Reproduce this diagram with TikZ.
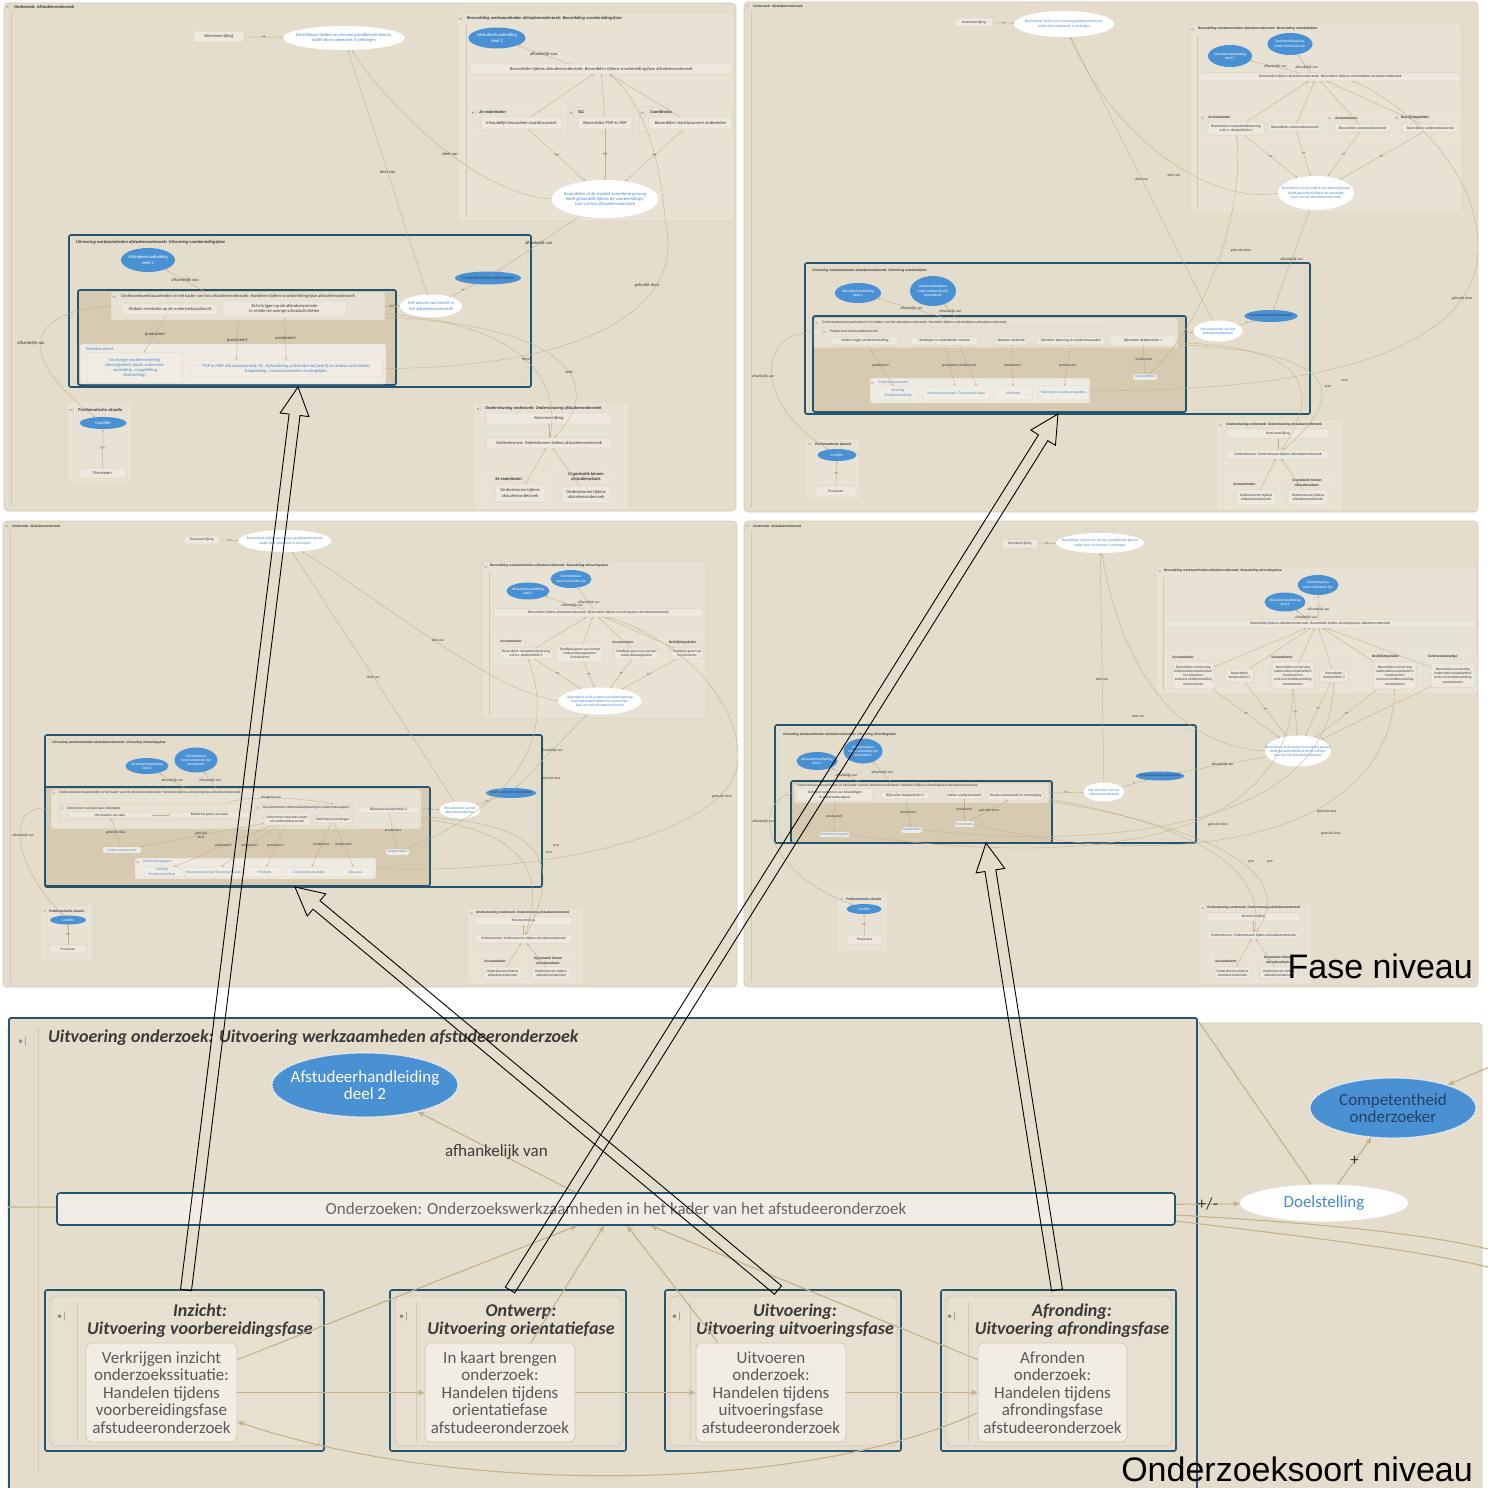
\documentclass[tikz,border=0pt]{standalone}
\usepackage{fontspec}
\setmainfont{Carlito}
\newfontfamily\helv{Liberation Sans}
\usetikzlibrary{shapes.geometric,calc,arrows.meta}

\definecolor{pbg}{RGB}{228,221,204}
\definecolor{pline}{RGB}{212,202,180}
\definecolor{gbg}{RGB}{232,226,212}
\definecolor{gline}{RGB}{210,199,176}
\definecolor{lbg}{RGB}{239,235,226}
\definecolor{bxbg}{RGB}{238,233,223}
\definecolor{bline}{RGB}{206,194,170}
\definecolor{hbg}{RGB}{214,202,176}
\definecolor{frm}{RGB}{36,84,110}
\definecolor{ebl}{RGB}{74,145,212}
\definecolor{txb}{RGB}{70,138,204}
\definecolor{con}{RGB}{196,177,140}
\definecolor{txd}{RGB}{58,58,58}
\definecolor{navy}{RGB}{38,64,100}
\definecolor{ibg}{RGB}{242,237,228}
\definecolor{pinbg}{RGB}{231,224,208}

\newcommand{\fsz}{\fontsize{4.5}{5.2}\selectfont}
\newcommand{\bigttl}{\fontsize{18}{18}\selectfont\bfseries\itshape}

% box given by its corners
\newcommand{\bxn}[7][]{\node[bx,#1,minimum width={(#5-#3)*1pt},minimum height={(#6-#4)*1pt}] (#2) at ({(#3+#5)/2},{(#4+#6)/2}) {#7};}
% frame given by its corners
\newcommand{\gn}[6][grp]{\node[#1,minimum width={(#5-#3)*1pt},minimum height={(#6-#4)*1pt}] (#2) at ({(#3+#5)/2},{(#4+#6)/2}) {};}
% ellipse by centre and size, text set on top
\newcommand{\eln}[7][]{\node[el,#1,minimum width={#5*1pt},minimum height={#6*1pt}] (#2) at (#3,#4) {};
  \node[#1,fill=none,draw=none,shape=rectangle,align=center,inner sep=0pt] (#2t) at (#2.center) {#7};}
% open block arrow from tail #1 to tip #2
\newcommand{\blockarrow}[2]{%
  \coordinate (hb#1) at ($(#2)!28pt!(#1)$);
  \draw[harrow] ($(#1)!5.5pt!90:(#2)$) -- ($(hb#1)!5.5pt!90:(#2)$) -- ($(hb#1)!14.5pt!90:(#2)$) -- (#2) -- ($(hb#1)!14.5pt!-90:(#2)$) -- ($(hb#1)!5.5pt!-90:(#2)$) -- ($(#1)!5.5pt!-90:(#2)$) -- cycle;}

\tikzset{
  panel/.style={fill=pbg,draw=pline,line width=0.6pt,rounded corners=4pt,inner sep=0pt},
  grp/.style={fill=gbg,draw=gline,line width=0.4pt,rounded corners=2pt,inner sep=0pt},
  dgrp/.style={fill=gbg,draw=white,dash pattern=on 1.2pt off 0.8pt,line width=0.4pt,rounded corners=2pt,inner sep=0pt},
  lgrp/.style={fill=lbg,draw=gline,line width=0.3pt,rounded corners=1.5pt,inner sep=0pt},
  ufr/.style={fill=pbg,draw=frm,line width=1.7pt,rounded corners=2pt,inner sep=0pt},
  ifr/.style={draw=gline,line width=0.4pt,rounded corners=2pt,inner sep=0pt},
  hlf/.style={fill=hbg,draw=frm,line width=1.7pt,rounded corners=2pt,inner sep=0pt},
  bx/.style={fill=bxbg,draw=bline,line width=0.3pt,rounded corners=1pt,inner sep=0.4pt,align=center,text=txd},
  lbx/.style={fill=ibg,text=txb},
  el/.style={ellipse,inner sep=0pt},
  bel/.style={fill=ebl,text=white},
  wel/.style={fill=white,text=txb},
  cel/.style={fill=ebl,text=navy},
  dot/.style={draw=white,dash pattern=on 0.8pt off 0.8pt,line width=1.2pt},
  cn/.style={draw=con,line width=0.4pt,-{Stealth[length=2.5pt,width=2pt]}},
  lab/.style={text=txd,inner sep=0.3pt,align=center},
  ttl/.style={font=\fsz\bfseries\itshape,text=txd,anchor=west,inner sep=0pt},
  ttc/.style={font=\fsz\bfseries\itshape,text=txd,align=center,inner sep=0pt},
  tt/.style={text=txd,anchor=west,inner sep=0pt},
  mk/.style={text=txd!60,inner sep=0pt},
  vl/.style={draw=gline,line width=0.4pt},
  harrow/.style={draw=black,line width=0.9pt,line join=miter},
  big/.style={font=\helv\fontsize{34}{36}\selectfont,text=black,inner sep=0pt,anchor=base east},
  ecn/.style={draw=con,line width=1.1pt,-{Stealth[length=7pt,width=6pt]}},
  epl/.style={draw=con,line width=1.1pt},
  efr/.style={fill=pbg,draw=frm,line width=1.8pt,rounded corners=2pt,inner sep=0pt},
  wbx/.style={fill=ibg,draw=frm,line width=1.6pt,rounded corners=3pt,text=black!60},
  pfr/.style={fill=pbg,draw=frm,line width=1.6pt,rounded corners=2pt,inner sep=0pt},
  pin/.style={fill=pinbg,draw=gline,line width=0.8pt,rounded corners=6pt,inner sep=0pt},
  ibx/.style={fill=ibg,draw=gline,line width=0.8pt,rounded corners=6pt,text=black!65},
}

\begin{document}
\begin{tikzpicture}[x=1pt,y=-1pt,every node/.style={font=\fsz}]
\useasboundingbox (0,0) rectangle (1488,1488);
\clip (0,0) rectangle (1488,1488);
\fill[white] (0,0) rectangle (1488,1488);

% ================= preparation phase panel =================
\begin{scope}
\renewcommand{\fsz}{\fontsize{4.5}{5.2}\selectfont}
\gn[panel]{aP}{4}{3}{736}{511}
\node[mk] (aM0) at (8,7.5) {•|};
\node[ttl] (aT0) at (14,7.5) {Onderzoek: Afstudeeronderzoek};
\draw[vl] (11,12) -- (11,506);
\bxn{aK}{194}{31}{244}{42}{Kennisverrijking}
\eln[wel]{aB}{344}{38}{122}{24}{Beschikbaar stellen van nieuwe gevalideerde kennis,\\welke door onderzoek is verkregen}
\gn[grp]{aG1}{457}{13}{734}{221}
\node[mk] (aM1) at (461,19) {•|};
\node[ttl] (aT1) at (467,18.5) {Beoordeling werkzaamheden afstudeeronderzoek: Beoordeling voorbereidingsfase};
\draw[vl] (466,25) -- (466,217);
\eln[bel]{aH}{497}{38}{57}{21}{Afstudeerhandleiding\\deel 2}
\bxn{aW}{470}{64}{733}{74}{Beoordelen tijdens afstudeeronderzoek: Beoordelen tijdens voorbereidingsfase afstudeeronderzoek}
\gn[dgrp]{aG2}{470}{107}{564}{133}
\node[mk] (aM2) at (474,113) {•|};
\node[ttl] (aT2) at (479,112) {2e examinator};
\bxn{aE1}{481}{117}{562}{129}{Inhoudelijk beoordelen startdocument}
\gn[grp]{aG3}{568}{107}{634}{133}
\node[mk] (aM3) at (572,113) {•|};
\node[ttl] (aT3) at (578,112) {SLC};
\bxn{aE2}{578}{117}{632}{129}{Beoordelen POP en PAP}
\gn[grp]{aG4}{639}{107}{733}{133}
\node[mk] (aM4) at (643,113) {•|};
\node[ttl] (aT4) at (650,112) {Coordinator};
\bxn{aE3}{649}{117}{732}{129}{Beoordelen startdocument onderdelen}
\eln[wel]{aR}{605}{199}{107}{38}{Beoordelen of de student toereikend genoeg\\heeft gehandeld tijdens de voorbereidings-\\fase van het afstudeeronderzoek}
% execution
\gn[ufr]{aU}{69}{235}{531}{387}
\gn[ifr]{aU2}{73}{239}{527}{383}
\node[ttl] (aT5) at (76,242) {Uitvoering werkzaamheden afstudeeronderzoek: Uitvoering voorbereidingsfase};
\eln[bel]{aH2}{148}{260}{54}{24}{Afstudeerhandleiding\\deel 2}
\eln[cel]{aC}{488}{278}{66}{13}{Competentheid onderzoeker}
\eln[wel]{aV}{431}{306}{62}{23}{Het werven van inzicht in\\het afstudeeronderzoek}
\gn[hlf]{aF}{78}{290}{396}{385}
\gn[grp]{aG5}{111}{292}{385}{320}
\node[mk] (aM6) at (115,297) {•|};
\node[tt] (aT6) at (121,296) {Onderzoekswerkzaamheden in het kader van het afstudeeronderzoek: Handelen tijdens voorbereidingsfase afstudeeronderzoek};
\bxn{aT1b}{122}{304}{218}{315}{Globale orientatie op de onderzoeksopdracht}
\bxn{aT2b}{223}{301}{346}{317}{Zicht krijgen op de afstudeerperiode\\in relatie tot overige schoolactiviteiten}
\gn[lgrp]{aG6}{80}{344}{386}{384}
\node[tt,text=txb] (aT7) at (86,349) {Startdocument};
\bxn[lbx]{aS1}{87}{353}{182}{383}{Voorlopige probleemstelling\\(kennisgebied, keuze onderzoek\\, aanleiding, vraagstelling,\\doelstelling)}
\bxn[lbx]{aS2}{190}{360}{383}{377}{POP en PAP, afstudeerperiode, EC, tijdverdeling activiteiten bij bedrijf en andere activiteiten,\\begeleiding, contactmomenten en dergelijke.}
% problem situation
\gn[dgrp]{aG7}{69}{404}{130}{481}
\node[mk] (aM7) at (72,410) {•|};
\node[ttl] (aT8) at (78,410) {Problematische situatie};
\eln[bel]{aCo}{103}{423}{47}{12}{Conditie}
\bxn{aPr}{78}{468}{127}{478}{Processen}
% support
\gn[dgrp]{aG8}{475}{404}{627}{508}
\node[mk] (aM8) at (479,409) {•|};
\node[ttl] (aT9) at (485,408) {Ondersteuning onderzoek: Ondersteuning afstudeeronderzoek};
\bxn{aOK}{486}{413}{612}{424}{Kennisverrijking}
\bxn{aOO}{486}{438}{612}{448}{Ondersteunen: Ondersteunen tijdens afstudeeronderzoek}
\gn[dgrp]{aG9}{487}{473}{547}{505}
\node[ttl] (aT10) at (495,479) {2e examinator};
\bxn{aO1}{495}{484}{545}{502}{Ondersteunen tijdens\\afstudeeronderzoek}
\gn[dgrp]{aG10}{551}{471}{611}{505}
\node[ttc] (aT11) at (586,477) {Organisatie binnen\\afstudeerplaats};
\bxn{aO2}{562}{486}{610}{503}{Ondersteunen tijdens\\afstudeeronderzoek}
% connectors
\draw[cn] (aK) -- node[lab] (aL0) {++} (aB);
\draw[cn] ([xshift=-32pt]aW.north) -- node[lab] (aL1) {afhankelijk van} (aH);
\draw[cn] (aE1) -- ([xshift=-8pt]aW.south);
\draw[cn] (aE2) -- (aW.south);
\draw[cn] (aE3) -- ([xshift=8pt]aW.south);
\draw[cn] (aE1) -- node[lab] (aL2) {++} (aR);
\draw[cn] (aE2) -- node[lab] (aL3) {++} (aR);
\draw[cn] (aE3) -- node[lab] (aL4) {++} (aR);
\draw[cn] (aV) -- node[lab] (aL5) {+} (aC);
\draw[cn] (aG5.east) -- node[lab] (aL6) {+/-} (aV);
\draw[cn] ([xshift=-43pt]aG5.north) -- node[lab] (aL7) {afhankelijk van} (aH2);
\draw[cn] (aT1b) -- node[lab] (aL8) {produceert} (aS1);
\draw[cn] ([xshift=-10pt]aG5.south) -- node[lab] (aL9) {produceert} ([xshift=-50pt]aS2.north);
\draw[cn] (aT2b) -- node[lab] (aL10) {produceert} (aS2);
\draw[cn] (aR) -- node[lab] (aL11) {afhankelijk van} (aC);
\draw[cn] (aV) -- node[lab] (aL12) {deel van} (aB);
\draw[cn] (aR.west) .. controls (480,195) and (390,110) .. node[lab,pos=0.45] (aL13) {deel van} (aB);
\draw[cn] (aS2.east) .. controls (560,368) and (690,320) .. (665,220) .. controls (660,150) and (640,100) .. ([xshift=8pt]aW.south);
\node[lab] (aL14) at (647,285) {gebruikt door};
\draw[cn] (aG5.west) .. controls (20,312) and (20,360) .. (aCo);
\node[lab] (aL15) at (31,343) {afhankelijk van};
\draw[cn] ([yshift=-8pt]aG5.east) .. controls (480,320) and (565,355) .. node[lab,pos=0.6] (aL16) {sync} (aOO);
\draw[cn] ([yshift=-11pt]aG5.east) .. controls (560,325) and (610,380) .. node[lab,pos=0.6] (aL17) {sync} (aOO);
\draw[cn] (aPr) -- node[lab] (aL18) {+/-} (aCo);
\draw[cn] (aOO) -- (aOK);
\draw[cn] (aO1) -- (aOO);
\draw[cn] (aO2) -- (aOO);
\end{scope}

% ================= orientation phase panel =================
\begin{scope}
\renewcommand{\fsz}{\fontsize{3.7}{4.3}\selectfont}
\gn[panel]{bP}{744}{2}{1478}{512}
\node[mk] (bM0) at (748,6.5) {•|};
\node[ttl] (bT0) at (753,6.5) {Onderzoek: Afstudeeronderzoek};
\draw[vl] (751,11) -- (751,507);
\bxn{bK}{955}{18}{993}{27}{Kennisverrijking}
\eln[wel]{bB}{1064}{24}{100}{26}{Beschikbaar stellen van nieuwe gevalideerde kennis,\\welke door onderzoek is verkregen}
\gn[grp]{bG1}{1190}{24}{1462}{212}
\node[mk] (bM1) at (1193,29.5) {•|};
\node[ttl] (bT1) at (1198,29) {Beoordeling werkzaamheden afstudeeronderzoek: Beoordeling orientatiefase};
\draw[vl] (1197,36) -- (1197,209);
\eln[bel]{bH}{1230}{56}{44}{22}{Afstudeerhandleiding\\deel 2}
\eln[bel]{bH2}{1290}{44}{45}{22}{Voorbereidingsfase\\moet voldoende zijn}
\bxn{bW}{1200}{73}{1461}{81}{Beoordelen tijdens afstudeeronderzoek: Beoordelen tijdens orientatiefase afstudeeronderzoek}
\gn[dgrp]{bG2}{1200}{113}{1324}{137}
\node[mk] (bM2) at (1203,118) {•|};
\node[ttl] (bT2) at (1208,117) {2e examinator};
\bxn{bE1}{1208}{122}{1264}{135}{Beoordelen competentiewerving\\a.d.h.v. deelportfolio 1}
\bxn{bE2}{1268}{123}{1322}{131}{Beoordelen onderzoeksvoorstel}
\gn[dgrp]{bG3}{1327}{113}{1392}{137}
\node[mk] (bM3) at (1330,118) {•|};
\node[ttl] (bT3) at (1335,118) {2e examinator};
\bxn{bE3}{1335}{124}{1390}{132}{Beoordelen onderzoeksvoorstel}
\gn[dgrp]{bG4}{1394}{113}{1461}{137}
\node[mk] (bM4) at (1397,118) {•|};
\node[ttl] (bT4) at (1401,118) {Bedrijfsbegeleider};
\bxn{bE4}{1402}{124}{1459}{132}{Beoordelen onderzoeksvoorstel}
\eln[wel]{bR}{1316}{193}{76}{34}{Beoordelen of de student toereikend genoeg\\heeft gehandeld tijdens de orientatie\\fase van het afstudeeronderzoek}
\gn[ufr]{bU}{805}{263}{1310}{414}
\gn[ifr]{bU2}{809}{267}{1306}{410}
\node[ttl] (bT5) at (812,271) {Uitvoering werkzaamheden afstudeeronderzoek: Uitvoering orientatiefase};
\eln[bel]{bH3}{858}{293}{46}{20}{Afstudeerhandleiding\\deel 1}
\eln[bel]{bH4}{933}{291}{46}{30}{Voorbereidingsfase\\moet voldoende zijn\\beoordeeld}
\eln[wel]{bV}{1218}{331}{49}{21}{Het ontwerpen van het\\afstudeeronderzoek}
\eln[cel]{bC}{1271}{316}{53}{12}{Competentheid onderzoeker}
\gn[hlf]{bF}{813}{316}{1186}{412}
\gn[grp]{bG5}{814}{318}{1178}{348}
\node[mk] (bM5) at (817,323) {•|};
\node[tt] (bT6) at (822,322.5) {Onderzoekswerkzaamheden in het kader van het afstudeeronderzoek: Handelen tijdens orientatiefase afstudeeronderzoek};
\gn[grp]{bG6}{822}{327}{1107}{347}
\node[mk] (bM6) at (825,332) {•|};
\node[tt] (bT7) at (830,331) {Produceren onderzoeksvoorstel};
\bxn{bT1}{832}{337}{898}{345}{Helder krijgen probleemstelling}
\bxn{bT2}{911}{337}{978}{345}{Verdiepen in onderkende materie}
\bxn{bT3}{996}{337}{1027}{345}{Bepalen methode}
\bxn{bT4}{1037}{337}{1105}{345}{Opstellen planning en randvoorwaarden}
\bxn{bT5}{1110}{336}{1176}{346}{Bijhouden deelportfolio 1}
\gn[lgrp]{bG7}{870}{378}{1090}{403}
\node[mk] (bM7) at (873,383) {•|};
\node[tt,text=txb] (bT8) at (878,382) {Onderzoeksvoorstel};
\bxn[lbx]{bS1}{878}{386}{918}{400}{Inleiding\\(Probleemstelling)}
\bxn[lbx]{bS2}{923}{386}{990}{400}{Bronnenonderzoek /Theoretisch kader}
\bxn[lbx]{bS3}{994}{386}{1033}{400}{Methode}
\bxn[lbx]{bS4}{1038}{386}{1089}{400}{Planning en randvoorwaarden}
\bxn[lbx]{bS5}{1133}{374}{1157}{380}{Deelportfolio}
\gn[dgrp]{bG8}{807}{440}{858}{498}
\node[mk] (bM8) at (810,444.5) {•|};
\node[ttl] (bT9) at (815,444) {Problematische situatie};
\eln[bel]{bCo}{837}{455}{39}{12}{Conditie}
\bxn{bPr}{816}{486}{856}{496}{Processen}
\gn[dgrp]{bG9}{1218}{421}{1341}{509}
\node[mk] (bM9) at (1221,425.5) {•|};
\node[ttl] (bT10) at (1226,425) {Ondersteuning onderzoek: Ondersteuning afstudeeronderzoek};
\bxn{bOK}{1226}{429}{1330}{438}{Kennisverrijking}
\bxn{bOO}{1226}{450}{1330}{459}{Ondersteunen: Ondersteunen tijdens afstudeeronderzoek}
\gn[dgrp]{bG10}{1226}{478}{1277}{507}
\node[ttl] (bT11) at (1233,484) {2e examinator};
\bxn{bO1}{1236}{490}{1276}{505}{Ondersteunen tijdens\\afstudeeronderzoek}
\gn[dgrp]{bG11}{1280}{477}{1330}{507}
\node[ttc] (bT12) at (1307,483) {Organisatie binnen\\afstudeerplaats};
\bxn{bO2}{1288}{490}{1328}{505}{Ondersteunen tijdens\\afstudeeronderzoek}
% connectors
\draw[cn] (bK) -- node[lab] (bL0) {++} (bB);
\draw[cn] ([xshift=-30pt]bW.north) -- node[lab] (bL1) {afhankelijk van} (bH);
\draw[cn] ([xshift=-20pt]bW.north) -- node[lab,pos=0.3] (bL2) {afhankelijk van} (bH2);
\draw[cn] (bE1) -- ([xshift=-22pt]bW.south);
\draw[cn] (bE2) -- ([xshift=-16pt]bW.south);
\draw[cn] (bE3) -- ([xshift=-10pt]bW.south);
\draw[cn] (bE4) -- ([xshift=-4pt]bW.south);
\draw[cn] (bE1) -- node[lab] (bL3) {++} (bR);
\draw[cn] (bE2) -- node[lab] (bL4) {++} (bR);
\draw[cn] (bE3) -- node[lab] (bL5) {++} (bR);
\draw[cn] (bE4) -- node[lab] (bL6) {+/-} (bR);
\draw[cn] (bV) -- node[lab] (bL7) {deel van} (bB);
\draw[cn] (bR.west) .. controls (1220,205) and (1120,150) .. (bB);
\node[lab] (bL8) at (1174,175) {deel van};
\draw[cn] (bS5) .. controls (1200,330) and (1245,220) .. (bE1);
\node[lab] (bL9) at (1241,251) {gebruikt door};
\draw[cn] (bR) -- node[lab] (bL10) {afhankelijk van} (bC);
\draw[cn] (bG7.east) .. controls (1350,392) and (1475,340) .. (1478,250) .. controls (1480,170) and (1400,100) .. ([xshift=22pt]bW.south);
\node[lab] (bL11) at (1462,299) {gebruikt door};
\draw[cn] (bG5.east) -- node[lab] (bL12) {+/-} (bV);
\draw[cn] (bV) -- node[lab] (bL13) {+} (bC);
\draw[cn] ([xshift=-51pt]bG5.north) -- node[lab] (bL14) {afhankelijk van} (bH3);
\draw[cn] ([xshift=-40pt]bG5.north) -- node[lab] (bL15) {afhankelijk van} (bH4);
\draw[cn] (bT1) -- node[lab] (bL16) {produceert} (bS1);
\draw[cn] (bT2) -- node[lab] (bL17) {produceert} (bS2);
\draw[cn] ([xshift=15pt]bT2.south) -- node[lab] (bL18) {produceert} ([xshift=20pt]bS2.north);
\draw[cn] (bT3) -- node[lab] (bL19) {produceert} (bS3);
\draw[cn] (bT4) -- node[lab] (bL20) {produceert} (bS4);
\draw[cn] (bT5) -- node[lab] (bL21) {produceert} (bS5);
\draw[cn] (bG5.west) .. controls (760,330) and (750,400) .. (bCo);
\node[lab] (bL22) at (763,377) {afhankelijk van};
\draw[cn] ([yshift=-10pt]bG5.east) .. controls (1290,345) and (1330,380) .. (bOO);
\draw[cn] ([yshift=-12pt]bG5.east) .. controls (1320,350) and (1360,385) .. (bOO);
\node[lab] (bL23) at (1328,387) {sync};
\node[lab] (bL24) at (1345,381) {sync};
\draw[cn] (bPr) -- node[lab] (bL25) {+/-} (bCo);
\draw[cn] (bOO) -- (bOK);
\draw[cn] (bO1) -- (bOO);
\draw[cn] (bO2) -- (bOO);
\end{scope}

% ================= execution phase panel =================
\begin{scope}
\renewcommand{\fsz}{\fontsize{3.6}{4.2}\selectfont}
\gn[panel]{cP}{3}{521}{737}{987}
\node[mk] (cM0) at (7,526) {•|};
\node[ttl] (cT0) at (12,526) {Onderzoek: Afstudeeronderzoek};
\draw[vl] (10,531) -- (10,982);
\bxn{cK}{184}{536}{220}{544}{Kennisverrijking}
\eln[wel]{cB}{285}{541}{93}{22}{Beschikbaar stellen van nieuwe gevalideerde kennis,\\welke door onderzoek is verkregen}
\gn[grp]{cG1}{482}{562}{706}{718}
\node[mk] (cM1) at (486,567) {•|};
\node[ttl] (cT1) at (490,566) {Beoordeling werkzaamheden afstudeeronderzoek: Beoordeling uitvoeringsfase};
\draw[vl] (489,572) -- (489,715);
\eln[bel]{cH}{528}{591}{43}{17}{Afstudeerhandleiding\\deel 2}
\eln[bel]{cH2}{571}{579}{41}{18}{Orientatiefase\\moet voldoende zijn}
\bxn{cW}{494}{609}{703}{617}{Beoordelen tijdens afstudeeronderzoek: Beoordelen tijdens uitvoeringsfase afstudeeronderzoek}
\gn[dgrp]{cG2}{494}{638}{604}{662}
\node[ttl] (cT2) at (500,641.5) {2e examinator};
\bxn{cE1}{500}{648}{552}{659}{Beoordelen competentiewerving\\a.d.h.v. deelportfolio 2}
\bxn{cE2}{557}{644}{603}{662}{Feedback geven op concept\\onderzoeksrapporten/\\functioneren}
\gn[dgrp]{cG3}{607}{638}{661}{662}
\node[ttl] (cT3) at (612,642.5) {2e examinator};
\bxn{cE3}{614}{648}{659}{659}{Feedback geven op concept\\onderzoeksrapporten}
\gn[dgrp]{cG4}{664}{638}{704}{662}
\node[ttl] (cT4) at (669,642.5) {Bedrijfsbegeleider};
\bxn{cE4}{671}{648}{703}{659}{Feedback geven op\\functioneren}
\eln[wel]{cR}{600}{701}{83}{27}{Beoordelen of de student toereikend genoeg\\heeft gehandeld tijdens de uitvoerings-\\fase van het afstudeeronderzoek}
\gn[ufr]{cU}{45}{735}{542}{887}
\gn[ifr]{cU2}{49}{739}{538}{883}
\node[ttl] (cT5) at (52,743) {Uitvoering werkzaamheden afstudeeronderzoek: Uitvoering uitvoeringsfase};
\eln[bel]{cH3}{147}{766}{43}{16}{Afstudeerhandleiding\\deel 2}
\eln[bel]{cH4}{196}{760}{43}{25}{Orientatiefase\\moet voldoende zijn\\beoordeeld}
\eln[wel]{cV}{460}{810}{41}{17}{Het uitvoeren van het\\afstudeeronderzoek}
\eln[cel]{cC}{511}{793}{50}{10}{Competentheid onderzoeker}
\gn[hlf]{cF}{45}{787}{430}{886}
\gn[grp]{cG5}{51}{789}{421}{829}
\node[mk] (cM5) at (54,793) {•|};
\node[tt] (cT6) at (59,792.5) {Onderzoekswerkzaamheden in het kader van het afstudeeronderzoek: Handelen tijdens uitvoeringsfase afstudeeronderzoek};
\gn[grp]{cG6}{59}{804}{251}{820}
\node[mk] (cM6) at (62,808) {•|};
\node[tt] (cT7) at (67,808) {Omvormen van data naar informatie};
\bxn{cT1}{68}{812}{152}{818}{Verzamelen van data}
\bxn{cT2}{170}{812}{249}{818}{Betekenis geven aan data}
\gn[grp]{cG7}{255}{804}{353}{827}
\node[mk] (cM7) at (258,808) {•|};
\node[tt] (cT8) at (263,808) {Documenteren onderzoeksuitvoering in onderzoeksrapport};
\bxn{cT3}{264}{813}{310}{825}{Overnemen relevante zaken\\uit onderzoeksvoorstel}
\bxn{cT4}{313}{816}{352}{823}{Toelichten bevindingen}
\bxn{cT5}{358}{807}{419}{813}{Bijhouden deelportfolio 2}
\bxn[lbx]{cS0}{103}{847}{141}{853}{Onderzoeksvoorstel}
\bxn[lbx]{cS6}{386}{849}{409}{855}{Deelportfolio}
\gn[lgrp]{cG8}{135}{858}{376}{879}
\node[mk] (cM8) at (138,862) {•|};
\node[tt,text=txb] (cT9) at (143,862) {Onderzoeksrapport};
\bxn[lbx]{cS1}{144}{867}{180}{877}{Inleiding\\(Probleemstelling)}
\bxn[lbx]{cS2}{184}{867}{244}{877}{Bronnenonderzoek/Theoretisch kader}
\bxn[lbx]{cS3}{246}{867}{283}{877}{Methode}
\bxn[lbx]{cS4}{286}{867}{333}{877}{Onderzoeksresultaten}
\bxn[lbx]{cS5}{337}{867}{374}{877}{Discussie}
\gn[dgrp]{cG9}{42}{907}{91}{959}
\node[mk] (cM9) at (45,911) {•|};
\node[ttl] (cT10) at (49,911) {Problematische situatie};
\eln[bel]{cCo}{68}{920}{36}{9}{Conditie}
\bxn{cPr}{50}{945}{86}{953}{Processen}
\gn[dgrp]{cG10}{469}{910}{582}{983}
\node[mk] (cM10) at (472,913.5) {•|};
\node[ttl] (cT11) at (476,913) {Ondersteuning onderzoek: Ondersteuning afstudeeronderzoek};
\bxn{cOK}{475}{917}{572}{925}{Kennisverrijking}
\bxn{cOO}{475}{935}{572}{943}{Ondersteunen: Ondersteunen tijdens afstudeeronderzoek}
\gn[dgrp]{cG11}{478}{956}{522}{982}
\node[ttl] (cT12) at (484,961) {2e examinator};
\bxn{cO1}{484}{967}{521}{980}{Ondersteunen tijdens\\afstudeeronderzoek}
\gn[dgrp]{cG12}{525}{955}{571}{982}
\node[ttc] (cT13) at (548,961) {Organisatie binnen\\afstudeerplaats};
\bxn{cO2}{532}{967}{570}{980}{Ondersteunen tijdens\\afstudeeronderzoek}
% connectors
\draw[cn] (cK) -- node[lab] (cL0) {++} (cB);
\draw[cn] ([xshift=-15pt]cW.north) -- node[lab,pos=0.3] (cL1) {afhankelijk van} (cH);
\draw[cn] ([xshift=-5pt]cW.north) -- node[lab,pos=0.3] (cL2) {afhankelijk van} (cH2);
\draw[cn] (cE1) -- ([xshift=-12pt]cW.south);
\draw[cn] (cE2) -- ([xshift=-6pt]cW.south);
\draw[cn] (cE3) -- (cW.south);
\draw[cn] (cE4) -- ([xshift=6pt]cW.south);
\draw[cn] (cE1) -- node[lab] (cL3) {++} (cR);
\draw[cn] (cE2) -- node[lab] (cL4) {++} (cR);
\draw[cn] (cE3) -- node[lab] (cL5) {++} (cR);
\draw[cn] (cE4) -- node[lab] (cL6) {+/-} (cR);
\draw[cn] (cV) -- node[lab] (cL7) {deel van} (cB);
\draw[cn] (cR.west) .. controls (490,690) and (380,600) .. (cB);
\node[lab] (cL8) at (438,640) {deel van};
\draw[cn] (cR) -- node[lab] (cL9) {afhankelijk van} (cC);
\draw[cn] (cS6) .. controls (480,820) and (565,760) .. (cE1);
\node[lab] (cL10) at (551,779) {gebruikt door};
\draw[cn] (cG8.east) .. controls (560,875) and (735,830) .. (738,760) .. controls (740,700) and (680,640) .. ([xshift=10pt]cW.south);
\node[lab] (cL11) at (722,797) {gebruikt door};
\draw[cn] (cG5.east) -- node[lab] (cL12) {+/-} (cV);
\draw[cn] (cV) -- node[lab] (cL13) {+} (cC);
\draw[cn] ([xshift=-50pt]cG5.north) -- node[lab] (cL14) {afhankelijk van} (cH3);
\draw[cn] ([xshift=-20pt]cG5.north) -- node[lab] (cL15) {afhankelijk van} (cH4);
\draw[cn] (cT1) -- (cT2);
\draw[cn] ([xshift=-25pt]cG6.north east) .. controls (240,796) and (290,796) .. ([xshift=-20pt]cG7.north east);
\node[lab] (cL16) at (271,798) {draagt bij aan};
\draw[cn] (cS0) -- node[lab] (cL17) {gebruikt door} (cT1);
\draw[cn] (cS0) -- node[lab] (cL18) {gebruikt\\door} (cT3);
\draw[cn] (cT3) -- node[lab] (cL19) {produceert} (cS1);
\draw[cn] (cT3) -- node[lab] (cL20) {produceert} (cS2);
\draw[cn] (cT3) -- node[lab] (cL21) {produceert} (cS3);
\draw[cn] (cT4) -- node[lab] (cL22) {produceert} (cS4);
\draw[cn] (cT4) -- node[lab] (cL23) {produceert} (cS5);
\draw[cn] (cT5) -- node[lab] (cL24) {produceert} (cS6);
\draw[cn] (cG5.west) .. controls (8,800) and (8,860) .. (cCo);
\node[lab] (cL25) at (23,836) {afhankelijk van};
\draw[cn] ([yshift=-8pt]cG5.east) .. controls (540,822) and (565,860) .. (cOO);
\draw[cn] ([yshift=-10pt]cG5.east) .. controls (520,830) and (548,870) .. (cOO);
\node[lab] (cL26) at (556,846) {sync};
\node[lab] (cL27) at (549,853) {sync};
\draw[cn] (cPr) -- node[lab] (cL28) {+/-} (cCo);
\draw[cn] (cOO) -- (cOK);
\draw[cn] (cO1) -- (cOO);
\draw[cn] (cO2) -- (cOO);
\end{scope}

% ================= completion phase panel =================
\begin{scope}
\renewcommand{\fsz}{\fontsize{3.6}{4.2}\selectfont}
\gn[panel]{dP}{744}{521}{1478}{987}
\node[mk] (dM0) at (748,526) {•|};
\node[ttl] (dT0) at (753,526) {Onderzoek: Afstudeeronderzoek};
\draw[vl] (751,531) -- (751,982);
\bxn{dK}{1002}{540}{1038}{548}{Kennisverrijking}
\eln[wel]{dB}{1100}{543}{88}{20}{Beschikbaar stellen van nieuwe gevalideerde kennis,\\welke door onderzoek is verkregen}
\gn[grp]{dG1}{1156}{567}{1477}{694}
\node[mk] (dM1) at (1160,571.5) {•|};
\node[ttl] (dT1) at (1164,571) {Beoordeling werkzaamheden afstudeeronderzoek: Beoordeling afrondingsfase};
\draw[vl] (1163,577) -- (1163,691);
\eln[bel]{dH2}{1318}{585}{41}{20}{Uitvoeringsfase\\moet voldoende zijn}
\eln[bel]{dH}{1285}{602}{41}{19}{Afstudeerhandleiding\\deel 2}
\bxn{dW}{1165}{620}{1476}{628}{Beoordelen tijdens afstudeeronderzoek: Beoordelen tijdens afrondingsfase afstudeeronderzoek}
\gn[dgrp]{dG2}{1166}{653}{1261}{691}
\node[ttl] (dT2) at (1172,657) {2e examinator};
\bxn{dE1}{1173}{662}{1214}{689}{Beoordelen verwerving\\onderzoekscompetenties/\\functioneren/\\protocol eindbeoordeling\\examinatoren}
\bxn{dE2}{1226}{669}{1253}{682}{Beoordelen\\deelportfolio 3}
\gn[dgrp]{dG3}{1265}{653}{1355}{691}
\node[ttl] (dT3) at (1271,657) {2e examinator};
\bxn{dE3}{1272}{662}{1314}{689}{Beoordelen verwerving\\onderzoekscompetenties/\\functioneren/\\protocol eindbeoordeling\\examinatoren}
\bxn{dE4}{1320}{669}{1348}{682}{Beoordelen\\deelportfolio 3}
\gn[dgrp]{dG4}{1366}{653}{1419}{691}
\node[ttl] (dT4) at (1372,657) {Bedrijfsbegeleider};
\bxn{dE5}{1374}{662}{1416}{689}{Beoordelen verwerving\\onderzoekscompetenties/\\functioneren/\\protocol eindbeoordeling\\examinatoren}
\gn[dgrp]{dG5}{1421}{653}{1477}{691}
\node[ttl] (dT5) at (1428,657) {Externe deskundige};
\bxn{dE6}{1431}{664}{1475}{687}{Beoordelen verwerving\\onderzoekscompetenties/\\protocol eindbeoordeling\\examinatoren}
\eln[wel]{dR}{1298}{751}{66}{31}{Beoordelen of de student toereikend genoeg\\heeft gehandeld tijdens de afrondings-\\fase van het afstudeeronderzoek}
\gn[ufr]{dU}{775}{725}{1196}{843}
\gn[ifr]{dU2}{779}{729}{1192}{839}
\node[ttl] (dT6) at (783,735) {Uitvoering werkzaamheden afstudeeronderzoek: Uitvoering afrondingsfase};
\eln[bel]{dH3}{817}{761}{41}{18}{Afstudeerhandleiding\\deel 3}
\eln[bel]{dH4}{863}{751}{39}{25}{Uitvoeringsfase\\moet voldoende zijn\\beoordeeld}
\eln[wel]{dV}{1104}{792}{41}{19}{Het afronden van het\\afstudeeronderzoek}
\eln[cel]{dC}{1160}{776}{49}{9}{Competentheid onderzoeker}
\gn[hlf]{dF}{791}{781}{1052}{843}
\gn[grp]{dG6}{794}{783}{1049}{803}
\node[tt] (dT7) at (797,785.5) {Onderzoekswerkzaamheden in het kader van het afstudeeronderzoek: Handelen tijdens afrondingsfase afstudeeronderzoek};
\bxn{dT1}{797}{789}{873}{801}{Definitief opleveren van bevindingen\\in onderzoeksrapport}
\bxn{dT2}{881}{792}{929}{799}{Bijhouden deelportfolio 3}
\bxn{dT3}{947}{792}{982}{799}{Maken eindpresentatie}
\bxn{dT4}{988}{792}{1043}{800}{Houden presentatie en verdediging}
\bxn[lbx]{dS1}{819}{832}{849}{837}{Onderzoeksrapport}
\bxn[lbx]{dS2}{901}{827}{922}{833}{Deelportfolio}
\bxn[lbx]{dS3}{955}{821}{974}{827}{Presentatie}
\gn[dgrp]{dG7}{839}{895}{886}{950}
\node[mk] (dM7) at (842,899.5) {•|};
\node[ttl] (dT8) at (846,899) {Problematische situatie};
\eln[bel]{dCo}{864}{909}{35}{10}{Conditie}
\bxn{dPr}{847}{935}{882}{944}{Processen}
\gn[dgrp]{dG8}{1200}{905}{1310}{983}
\node[mk] (dM8) at (1203,908.5) {•|};
\node[ttl] (dT9) at (1207,908) {Ondersteuning onderzoek: Ondersteuning afstudeeronderzoek};
\bxn{dOK}{1207}{913}{1300}{921}{Kennisverrijking}
\bxn{dOO}{1207}{932}{1300}{939}{Ondersteunen: Ondersteunen tijdens afstudeeronderzoek}
\gn[dgrp]{dG9}{1211}{956}{1252}{981}
\node[ttl] (dT10) at (1215,961) {2e examinator};
\bxn{dO1}{1215}{967}{1250}{979}{Ondersteunen tijdens\\afstudeeronderzoek}
\gn[dgrp]{dG10}{1256}{955}{1300}{981}
\node[ttc] (dT11) at (1278,960) {Organisatie binnen\\afstudeerplaats};
\bxn{dO2}{1260}{967}{1298}{979}{Ondersteunen tijdens\\afstudeeronderzoek}
% connectors
\draw[cn] (dK) -- node[lab] (dL0) {++} (dB);
\draw[cn] ([xshift=-12pt]dW.north) -- node[lab,pos=0.2] (dL1) {afhankelijk van} (dH);
\draw[cn] ([xshift=-2pt]dW.north) -- node[lab,pos=0.4] (dL2) {afhankelijk van} (dH2);
\draw[cn] (dE1) -- ([xshift=-14pt]dW.south);
\draw[cn] (dE2) -- ([xshift=-10pt]dW.south);
\draw[cn] (dE3) -- ([xshift=-6pt]dW.south);
\draw[cn] (dE4) -- ([xshift=-2pt]dW.south);
\draw[cn] (dE5) -- ([xshift=2pt]dW.south);
\draw[cn] (dE6) -- ([xshift=6pt]dW.south);
\draw[cn] (dE1) -- node[lab] (dL3) {++} (dR);
\draw[cn] (dE2) -- node[lab] (dL4) {++} (dR);
\draw[cn] (dE3) -- node[lab] (dL5) {++} (dR);
\draw[cn] (dE4) -- node[lab] (dL6) {++} (dR);
\draw[cn] (dE5) -- node[lab] (dL7) {++} (dR);
\draw[cn] (dE6) -- (dR);
\draw[cn] (dV) -- node[lab,pos=0.45] (dL8) {deel van} (dB);
\draw[cn] (dR.west) .. controls (1170,745) and (1120,660) .. (dB);
\node[lab] (dL9) at (1138,716) {deel van};
\draw[cn] (dR) -- node[lab] (dL10) {afhankelijk van} (dC);
\draw[cn] (dS1.east) .. controls (1100,870) and (1290,840) .. (dE3);
\node[lab] (dL11) at (1218,825) {gebruikt door};
\draw[cn] (dS2.east) .. controls (1100,850) and (1330,830) .. (dE4);
\node[lab] (dL12) at (1327,812) {gebruikt door};
\draw[cn] (dS3.east) .. controls (1150,870) and (1390,850) .. (dE5);
\node[lab] (dL13) at (1331,834) {gebruikt door};
\draw[cn] (dG6.east) -- node[lab] (dL14) {+/-} (dV);
\draw[cn] (dV) -- node[lab] (dL15) {+} (dC);
\draw[cn] ([xshift=-60pt]dG6.north) -- node[lab] (dL16) {afhankelijk van} (dH3);
\draw[cn] ([xshift=-30pt]dG6.north) -- node[lab] (dL17) {afhankelijk van} (dH4);
\draw[cn] (dT1) -- node[lab] (dL18) {produceert} (dS1);
\draw[cn] (dT2) -- node[lab] (dL19) {produceert} (dS2);
\draw[cn] (dT3) -- node[lab] (dL20) {produceert} (dS3);
\draw[cn] (dS3) -- node[lab] (dL21) {gebruikt door} (dT4);
\draw[cn] (dG6.west) .. controls (752,800) and (760,870) .. (dCo);
\node[lab] (dL22) at (763,822) {afhankelijk van};
\draw[cn] ([yshift=-6pt]dG6.east) .. controls (1220,830) and (1265,880) .. (dOO);
\draw[cn] ([yshift=-8pt]dG6.east) .. controls (1250,835) and (1290,885) .. (dOO);
\node[lab] (dL23) at (1251,862) {sync};
\node[lab] (dL24) at (1270,862) {sync};
\draw[cn] (dPr) -- node[lab] (dL25) {+/-} (dCo);
\draw[cn] (dOO) -- (dOK);
\draw[cn] (dO1) -- (dOO);
\draw[cn] (dO2) -- (dOO);
\end{scope}

% ================= research type level =================
\begin{scope}
\renewcommand{\fsz}{\fontsize{17}{17.5}\selectfont}
\gn[panel]{eP}{8}{1023}{1482}{1500}
\gn[efr]{eU}{9}{1018}{1197}{1500}
\node[mk,font=\fontsize{10}{10}\selectfont] (eM0) at (23,1042) {•|};
\node[ttl,font=\bigttl] (eT0) at (48,1038) {Uitvoering onderzoek: Uitvoering werkzaamheden afstudeeronderzoek};
\draw[vl,line width=0.8pt] (38,1028) -- (38,1472);
\eln[bel,dot]{eH}{365}{1085}{186}{64}{Afstudeerhandleiding\\deel 2}
\bxn[wbx]{eW}{57}{1193}{1175}{1225}{Onderzoeken: Onderzoekswerkzaamheden in het kader van het afstudeeronderzoek}
\eln[wel]{eD}{1324}{1203}{168}{37}{Doelstelling}
\eln[bel,dot,text=navy]{eC}{1393}{1108}{166}{60}{Competentheid\\onderzoeker}
\coordinate (eTop) at (1199,1022);
\coordinate (eRt) at (1492,1066);
\coordinate (eLf) at (8,1207);
\coordinate (eR2) at (1492,1250);
\coordinate (eR3) at (1492,1268);
% phase blocks
\gn[pfr]{eF1}{45}{1290}{324}{1451}
\gn[pin]{eG1}{50}{1296}{320}{1446}
\node[mk,font=\fontsize{10}{10}\selectfont] (eM1) at (62,1317) {•|};
\draw[vl,line width=0.8pt] (77,1302) -- (77,1442);
\node[ttc,font=\bigttl] (eT1) at (200,1321) {Inzicht:\\Uitvoering voorbereidingsfase};
\bxn[ibx]{eP1}{86}{1343}{237}{1442}{Verkrijgen inzicht\\onderzoekssituatie:\\Handelen tijdens\\voorbereidingsfase\\afstudeeronderzoek}
\gn[pfr]{eF2}{390}{1290}{626}{1451}
\gn[pin]{eG2}{395}{1296}{622}{1446}
\node[mk,font=\fontsize{10}{10}\selectfont] (eM2) at (404,1317) {•|};
\draw[vl,line width=0.8pt] (416,1302) -- (416,1442);
\node[ttc,font=\bigttl] (eT2) at (521,1321) {Ontwerp:\\Uitvoering orientatiefase};
\bxn[ibx]{eP2}{425}{1343}{575}{1442}{In kaart brengen\\onderzoek:\\Handelen tijdens\\orientatiefase\\afstudeeronderzoek}
\gn[pfr]{eF3}{665}{1290}{901}{1451}
\gn[pin]{eG3}{670}{1296}{897}{1446}
\node[mk,font=\fontsize{10}{10}\selectfont] (eM3) at (677,1317) {•|};
\draw[vl,line width=0.8pt] (690,1302) -- (690,1442);
\node[ttc,font=\bigttl] (eT3) at (795,1321) {Uitvoering:\\Uitvoering uitvoeringsfase};
\bxn[ibx]{eP3}{696}{1343}{846}{1442}{Uitvoeren\\onderzoek:\\Handelen tijdens\\uitvoeringsfase\\afstudeeronderzoek}
\gn[pfr]{eF4}{941}{1290}{1176}{1451}
\gn[pin]{eG4}{946}{1296}{1172}{1446}
\node[mk,font=\fontsize{10}{10}\selectfont] (eM4) at (952,1317) {•|};
\draw[vl,line width=0.8pt] (968,1302) -- (968,1442);
\node[ttc,font=\bigttl] (eT4) at (1072,1321) {Afronding:\\Uitvoering afrondingsfase};
\bxn[ibx]{eP4}{978}{1343}{1127}{1442}{Afronden\\onderzoek:\\Handelen tijdens\\afrondingsfase\\afstudeeronderzoek}
% connectors
\draw[ecn] ([xshift=-41pt]eW.north) -- node[lab] (eL0) {afhankelijk van} (eH);
\draw[ecn] (eW) -- node[lab] (eL1) {+/-} (eD);
\draw[ecn] (eD) -- node[lab] (eL2) {+} (eC);
\draw[epl] (eTop) -- (eD);
\draw[ecn] (eRt) -- (eC);
\draw[epl] (eLf) -- (eW);
\draw[epl] ([yshift=-6pt]eW.east) .. controls (1300,1222) and (1420,1232) .. (eR2);
\draw[epl] ([yshift=-12pt]eW.east) .. controls (1300,1236) and (1420,1250) .. (eR3);
\draw[ecn] (eP1) -- (eP2);
\draw[ecn] (eP2) -- (eP3);
\draw[ecn] (eP3) -- (eP4);
\draw[ecn] ([yshift=-17pt]eP1.north east) -- ([xshift=-39pt]eW.south);
\draw[ecn] ([xshift=31pt]eP2.north) -- ([xshift=-12pt]eW.south);
\draw[ecn] ([xshift=-53pt]eP3.north) -- ([xshift=11pt]eW.south);
\draw[ecn] ([yshift=-17pt]eP4.north west) -- ([xshift=35pt]eW.south);
\draw[ecn] ([yshift=-70pt]eP4.north west) .. controls (800,1495) and (450,1495) .. ([yshift=-79pt]eP1.north east);
\end{scope}

% ================= block arrows between the levels =================
\coordinate (t1) at (186,1290); \coordinate (p1) at (298,387);
\coordinate (t2) at (510,1290); \coordinate (p2) at (1058,414);
\coordinate (t3) at (778,1290); \coordinate (p3) at (295,887);
\coordinate (t4) at (1057,1290); \coordinate (p4) at (986,843);
\blockarrow{t1}{p1}
\blockarrow{t2}{p2}
\blockarrow{t3}{p3}
\blockarrow{t4}{p4}

\node[big] (lvlA) at (1473,978) {Fase niveau};
\node[big] (lvlB) at (1473,1481) {Onderzoeksoort niveau};
\end{tikzpicture}
\end{document}
